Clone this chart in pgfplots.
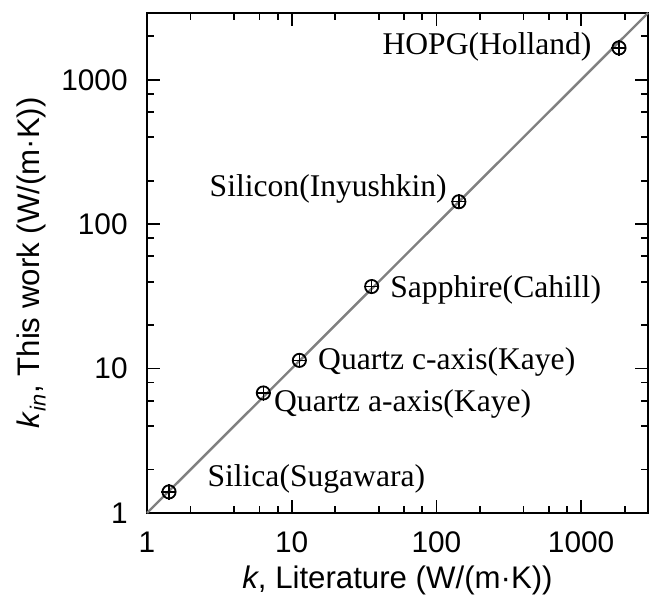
\documentclass[border=0pt]{standalone}
\usepackage{fontspec}
\setmainfont{Liberation Sans}
\newfontfamily\tnr{Liberation Serif}
\usepackage{pgfplots}
\pgfplotsset{compat=1.18}
\begin{document}
\begin{tikzpicture}
\begin{axis}[
  scale only axis, width=250.5pt, height=250pt,
  xmode=log, ymode=log, xmin=1, xmax=2900, ymin=1, ymax=2900,
  xtick={1,10,100,1000}, xticklabels={1,10,100,1000},
  ytick={1,10,100,1000}, yticklabels={1,10,100,1000},
  minor xtick={2,4,6,8,20,40,60,80,200,400,600,800,2000},
  minor ytick={2,4,6,8,20,40,60,80,200,400,600,800,2000},
  tick align=inside, major tick length=6.5pt, minor tick length=3.5pt,
  axis line style={line width=1pt},
  every tick/.style={black, line width=0.9pt},
  /pgf/number format/assume math mode=true,
  xticklabel style={font=\fontsize{14.9}{16}\selectfont, anchor=base, yshift=-20pt},
  yticklabel style={font=\fontsize{14.9}{16}\selectfont, anchor=east, inner sep=0pt, xshift=-9.5pt},
  xlabel={\textit{k}, Literature (W/(m·K))},
  ylabel={\textit{k}\textsubscript{\textit{in}}, This work (W/(m·K))},
  xlabel style={font=\fontsize{15.6}{18}\selectfont, at={(axis description cs:0.5,-0.152)}, anchor=base},
  ylabel style={font=\fontsize{15.6}{18}\selectfont, at={(axis description cs:-0.23,0.5)}, anchor=center},
  clip=false,
]
\addplot[gray, line width=1.2pt, forget plot] coordinates {(1,1) (2900,2900)};
\addplot[black, only marks, mark=o, mark size=3.3pt, mark options={line width=0.9pt},
  error bars/.cd, x dir=both, x fixed relative=0.05, y dir=both, y fixed relative=0.05,
  error bar style={line width=0.65pt},
  error mark options={line width=0.65pt, mark size=2.2pt}]
  coordinates {
  (1.42,1.40)
  (6.37,6.78)
  (11.3,11.4)
  (35.7,37.0)
  (143,143)
  (1828,1662)
  };
\node[font=\tnr\fontsize{15.8}{18}\selectfont, anchor=base east, inner sep=0pt] at (rel axis cs:0.888,0.916) {HOPG(Holland)};
\node[font=\tnr\fontsize{15.8}{18}\selectfont, anchor=base east, inner sep=0pt] at (rel axis cs:0.599,0.632) {Silicon(Inyushkin)};
\node[font=\tnr\fontsize{15.8}{18}\selectfont, anchor=base west, inner sep=0pt] at (rel axis cs:0.485,0.430) {Sapphire(Cahill)};
\node[font=\tnr\fontsize{15.8}{18}\selectfont, anchor=base west, inner sep=0pt] at (rel axis cs:0.341,0.286) {Quartz c-axis(Kaye)};
\node[font=\tnr\fontsize{15.8}{18}\selectfont, anchor=base west, inner sep=0pt] at (rel axis cs:0.253,0.202) {Quartz a-axis(Kaye)};
\node[font=\tnr\fontsize{15.8}{18}\selectfont, anchor=base west, inner sep=0pt] at (rel axis cs:0.120,0.052) {Silica(Sugawara)};
\end{axis}
\pgfresetboundingbox
\useasboundingbox ([xshift=-73.5pt,yshift=-50.5pt]current axis.south west) rectangle ([xshift=8pt,yshift=6.5pt]current axis.north east);
\end{tikzpicture}
\end{document}
